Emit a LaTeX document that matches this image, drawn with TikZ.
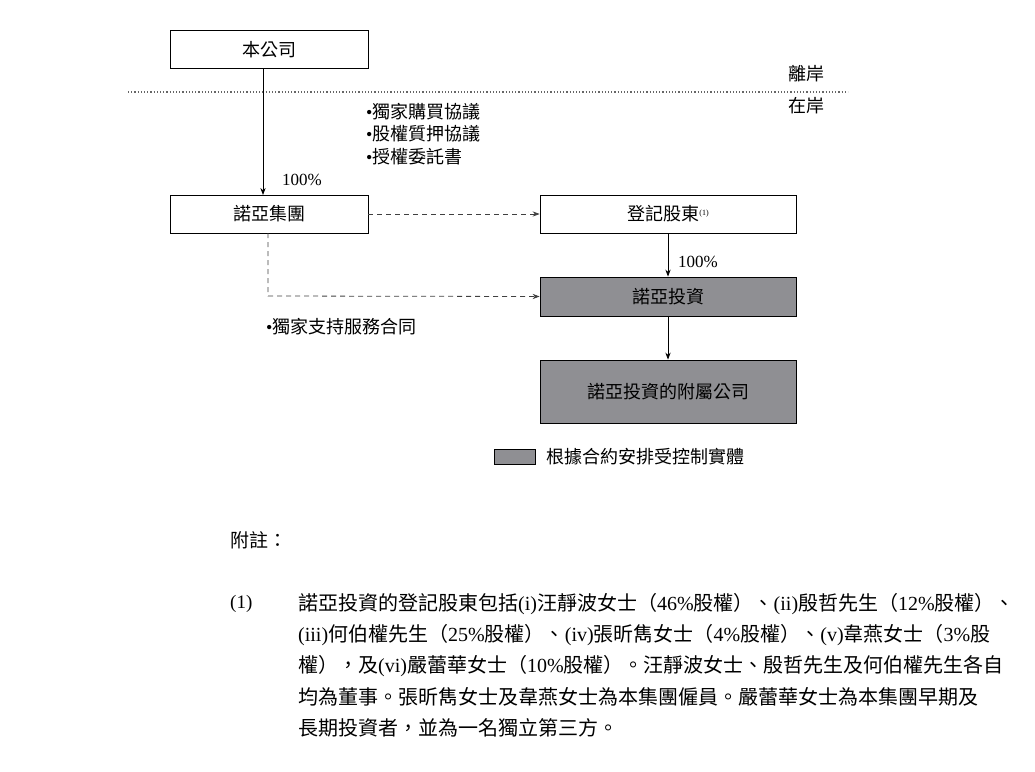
\documentclass[tikz,border=0pt]{standalone}
\usepackage{fontspec}
\setmainfont{Liberation Serif}
\newfontfamily\cjk{Noto Sans CJK TC}
\usetikzlibrary{arrows.meta}
\definecolor{boxgray}{HTML}{8F8F93}
\begin{document}
\begin{tikzpicture}[x=1pt,y=-1pt,
  box/.style={draw,thick,minimum height=38pt,font=\cjk\fontsize{18}{20}\selectfont},
  gbox/.style={box,fill=boxgray},
  lbl/.style={font=\cjk\fontsize{18}{20}\selectfont,anchor=west,inner sep=0},
  num/.style={font=\fontsize{17}{20}\selectfont,anchor=west,inner sep=0},
  para/.style={font=\cjk\fontsize{20}{22}\selectfont,anchor=west,inner sep=0},
  arr/.style={-{Stealth[length=7pt]},thick},
  darr/.style={-{Stealth[length=7pt]},thick,dash pattern=on 5pt off 4pt,draw=black!75}]
\useasboundingbox (0,0) rectangle (1035,771);
\node[box,minimum width=198pt] (hq) at (269,49.5) {本公司};
\draw[dotted,very thick,black!60] (128,92) -- (848,92);
\node[lbl] (off) at (788,74) {離岸};
\node[lbl] (on) at (788,106) {在岸};
\node[lbl] (b1) at (366,112) {{\rmfamily\textbullet}獨家購買協議};
\node[lbl] (b2) at (366,134) {{\rmfamily\textbullet}股權質押協議};
\node[lbl] (b3) at (366,157) {{\rmfamily\textbullet}授權委託書};
\node[box,minimum width=198pt,minimum height=38pt] (grp) at (269,214) {諾亞集團};
\draw[arr] (hq.south -| 263,0) -- (263,195);
\node[num] (p1) at (282,180) {100\%};
\node[box,minimum width=256pt] (reg) at (668,214) {登記股東\raisebox{5pt}{\rmfamily\fontsize{8}{9}\selectfont(1)}};
\draw[darr] (grp.east) -- (reg.west);
\node[gbox,minimum width=256pt,minimum height=39pt] (inv) at (668,296.5) {諾亞投資};
\draw[arr] (reg.south) -- (inv.north);
\node[num] (p2) at (678,262) {100\%};
\draw[darr] (268,233) -- (268,296) -- (inv.west);
\node[lbl] (b4) at (266,327) {{\rmfamily\textbullet}獨家支持服務合同};
\node[gbox,minimum width=256pt,minimum height=63pt] (sub) at (668,391.5) {諾亞投資的附屬公司};
\draw[arr] (inv.south) -- (sub.north);
\node[draw,thick,fill=boxgray,minimum width=41pt,minimum height=15pt,inner sep=0] (leg) at (514.5,456.5) {};
\node[lbl] (legt) at (546,456.5) {根據合約安排受控制實體};
\node[para,font=\cjk\fontsize{19}{22}\selectfont\itshape] (note) at (230,540) {附註：};
\node[num,font=\fontsize{19}{22}\selectfont] (n1) at (230,604) {(1)};
\node[para] (l1) at (298,604) {諾亞投資的登記股東包括{\rmfamily(i)}汪靜波女士（{\rmfamily 46\%}股權）、{\rmfamily(ii)}殷哲先生（{\rmfamily 12\%}股權）、};
\node[para] (l2) at (298,635) {{\rmfamily(iii)}何伯權先生（{\rmfamily 25\%}股權）、{\rmfamily(iv)}張昕雋女士（{\rmfamily 4\%}股權）、{\rmfamily(v)}韋燕女士（{\rmfamily 3\%}股};
\node[para] (l3) at (298,666) {權），及{\rmfamily(vi)}嚴蕾華女士（{\rmfamily 10\%}股權）。汪靜波女士、殷哲先生及何伯權先生各自};
\node[para] (l4) at (298,697) {均為董事。張昕雋女士及韋燕女士為本集團僱員。嚴蕾華女士為本集團早期及};
\node[para] (l5) at (298,728) {長期投資者，並為一名獨立第三方。};
\end{tikzpicture}
\end{document}
